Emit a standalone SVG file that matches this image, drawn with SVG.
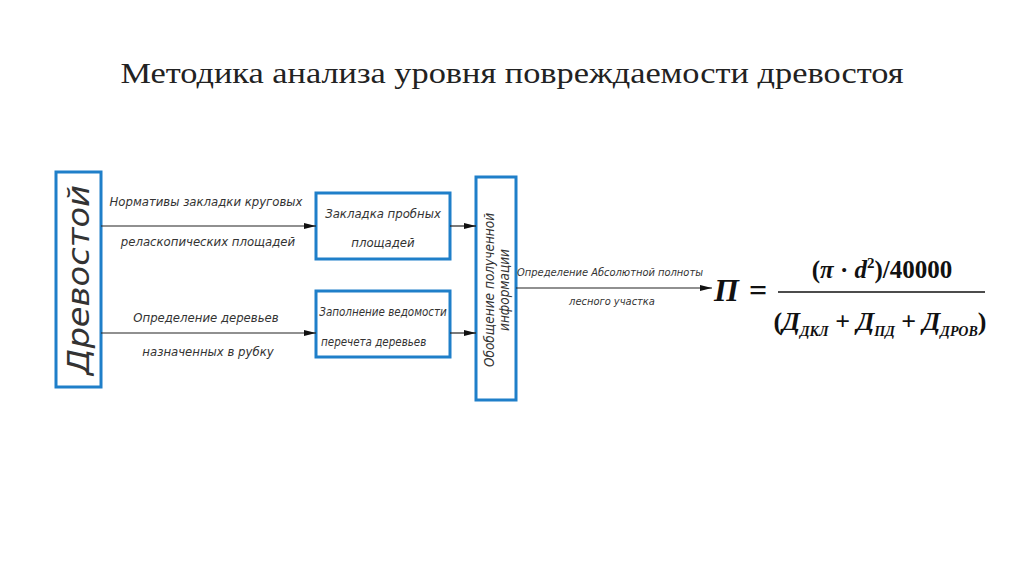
<svg xmlns="http://www.w3.org/2000/svg" width="1024" height="574" viewBox="0 0 1024 574">
<style>
.box{fill:#fff;stroke:#1f7fc9;stroke-width:3}
.ln{stroke:#222;stroke-width:1.2;fill:none}
.t{font-family:"DejaVu Sans Condensed","Liberation Sans",sans-serif;font-style:italic;fill:#333;font-weight:300}
.f{font-family:"Liberation Serif",serif;font-weight:bold;fill:#111}
</style>
<defs><marker id="a" viewBox="0 0 12 6" refX="12" refY="3" markerWidth="12" markerHeight="6" markerUnits="userSpaceOnUse" orient="auto"><path d="M0,0L12,3L0,6z" fill="#111"/></marker></defs>
<rect width="1024" height="574" fill="#fff"/>
<text x="512" y="83" text-anchor="middle" font-family="Liberation Serif,serif" font-size="30" textLength="783" lengthAdjust="spacingAndGlyphs" fill="#222">Методика анализа уровня повреждаемости древостоя</text>
<g id="n1"><rect class="box" x="56" y="172" width="45" height="215"/><text class="t" transform="translate(89,280) rotate(-90)" text-anchor="middle" font-size="30" textLength="190" lengthAdjust="spacingAndGlyphs">Древостой</text></g>
<g id="n2"><rect class="box" x="316" y="193" width="134" height="66"/><text class="t" x="383" y="218" text-anchor="middle" font-size="13">Закладка пробных</text><text class="t" x="383" y="247" text-anchor="middle" font-size="13">площадей</text></g>
<g id="n3"><rect class="box" x="316" y="291" width="134" height="66"/><text class="t" x="383" y="316" text-anchor="middle" font-size="11.5">Заполнение ведомости</text><text class="t" x="321" y="346" font-size="11.5">перечета деревьев</text></g>
<g id="n4"><rect class="box" x="476" y="177" width="40" height="223"/><text class="t" transform="translate(494,290) rotate(-90)" text-anchor="middle" font-size="13.5">Обобщение полученной</text><text class="t" transform="translate(509,290) rotate(-90)" text-anchor="middle" font-size="13.5">информации</text></g>
<g id="conn">
<line class="ln" x1="101" y1="226" x2="316" y2="226" marker-end="url(#a)"/>
<line class="ln" x1="101" y1="333" x2="316" y2="333" marker-end="url(#a)"/>
<line class="ln" x1="450" y1="226" x2="476" y2="226" marker-end="url(#a)"/>
<line class="ln" x1="450" y1="333" x2="476" y2="333" marker-end="url(#a)"/>
<line class="ln" x1="516" y1="288" x2="712" y2="288" marker-end="url(#a)"/>
<text class="t" x="206" y="206" text-anchor="middle" font-size="13">Нормативы закладки круговых</text>
<text class="t" x="208" y="246" text-anchor="middle" font-size="13">реласкопических площадей</text>
<text class="t" x="206" y="322" text-anchor="middle" font-size="13">Определение деревьев</text>
<text class="t" x="208" y="356" text-anchor="middle" font-size="13">назначенных в рубку</text>
<text class="t" x="610" y="276" text-anchor="middle" font-size="11">Определение Абсолютной полноты</text>
<text class="t" x="612" y="305" text-anchor="middle" font-size="11">лесного участка</text>
</g>
<g id="formula">
<text class="f" x="714" y="301" font-size="32" font-style="italic">П</text>
<text class="f" x="749" y="301" font-size="32">=</text>
<line x1="778" y1="292" x2="985" y2="292" stroke="#111" stroke-width="1.6"/>
<text class="f" x="882" y="278" text-anchor="middle" font-size="25">(<tspan font-style="italic">π</tspan> · <tspan font-style="italic">d</tspan><tspan font-size="15" dy="-10">2</tspan><tspan dy="10">)/40000</tspan></text>
<text class="f" x="880" y="330" text-anchor="middle" font-size="26">(<tspan font-style="italic">Д</tspan><tspan font-style="italic" font-size="14" dy="6">ДКЛ</tspan><tspan dy="-6"> + </tspan><tspan font-style="italic">Д</tspan><tspan font-style="italic" font-size="14" dy="6">ПД</tspan><tspan dy="-6"> + </tspan><tspan font-style="italic">Д</tspan><tspan font-style="italic" font-size="14" dy="6">ДРОВ</tspan><tspan dy="-6">)</tspan></text>
</g>
</svg>
